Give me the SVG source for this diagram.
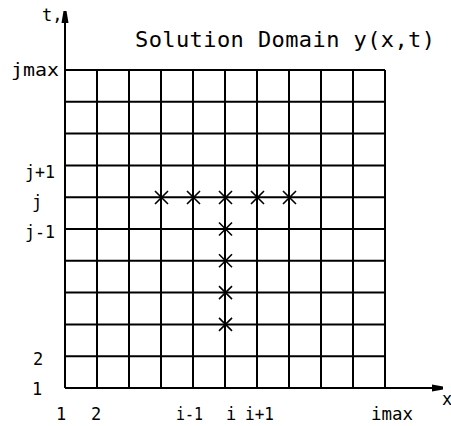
<svg xmlns="http://www.w3.org/2000/svg" width="451" height="426" viewBox="0 0 451 426">
<style>
.g{stroke:#000;stroke-width:2;fill:none}
.ax{stroke:#000;stroke-width:2;fill:none}
.m{stroke:#000;stroke-width:1.6;fill:none}
.t{font-family:"DejaVu Sans Mono","Liberation Mono",monospace;font-size:17px;fill:#000}
.title{font-family:"DejaVu Sans Mono","Liberation Mono",monospace;font-size:22px;fill:#000}
</style>
<rect width="451" height="426" fill="#fff"/>
<g id="grid" class="g">
<path d="M65 70H385M65 101.8H385M65 133.6H385M65 165.4H385M65 197.2H385M65 229H385M65 260.8H385M65 292.6H385M65 324.4H385M65 356.2H385"/>
<path d="M97 70V388M129 70V388M161 70V388M193 70V388M225 70V388M257 70V388M289 70V388M321 70V388M353 70V388M385 70V388"/>
</g>
<g id="axes">
<path class="ax" d="M65 388V20M65 388H434"/>
<polygon points="61.5,23 68.5,23 66.5,11 63.5,11" fill="#000"/>
<polygon points="432,384.5 432,391.5 443,389.5 443,386.5" fill="#000"/>
</g>
<g id="marks" class="m">
<path d="M155 191l13 13M168 191l-13 13"/>
<path d="M187 191l13 13M200 191l-13 13"/>
<path d="M219 191l13 13M232 191l-13 13"/>
<path d="M251 191l13 13M264 191l-13 13"/>
<path d="M283 191l13 13M296 191l-13 13"/>
<path d="M219 222.5l13 13M232 222.5l-13 13"/>
<path d="M219 254.3l13 13M232 254.3l-13 13"/>
<path d="M219 286.1l13 13M232 286.1l-13 13"/>
<path d="M219 317.9l13 13M232 317.9l-13 13"/>
</g>
<g id="labels">
<text class="title" x="135" y="47" textLength="300" lengthAdjust="spacing">Solution Domain y(x,t)</text>
<text class="t" x="42" y="21">t,</text>
<text class="t" x="442" y="405">x</text>
<text class="t" x="11" y="76" textLength="48" lengthAdjust="spacingAndGlyphs">jmax</text>
<text class="t" x="25" y="178" textLength="30" lengthAdjust="spacingAndGlyphs">j+1</text>
<text class="t" x="32" y="208">j</text>
<text class="t" x="25" y="238" textLength="30" lengthAdjust="spacingAndGlyphs">j-1</text>
<text class="t" x="33" y="365">2</text>
<text class="t" x="32" y="395">1</text>
<text class="t" x="56" y="420">1</text>
<text class="t" x="91" y="420">2</text>
<text class="t" x="176" y="420" textLength="27" lengthAdjust="spacingAndGlyphs">i-1</text>
<text class="t" x="226" y="420">i</text>
<text class="t" x="245" y="420" textLength="29" lengthAdjust="spacingAndGlyphs">i+1</text>
<text class="t" x="371" y="420" textLength="42" lengthAdjust="spacingAndGlyphs">imax</text>
</g>
</svg>
